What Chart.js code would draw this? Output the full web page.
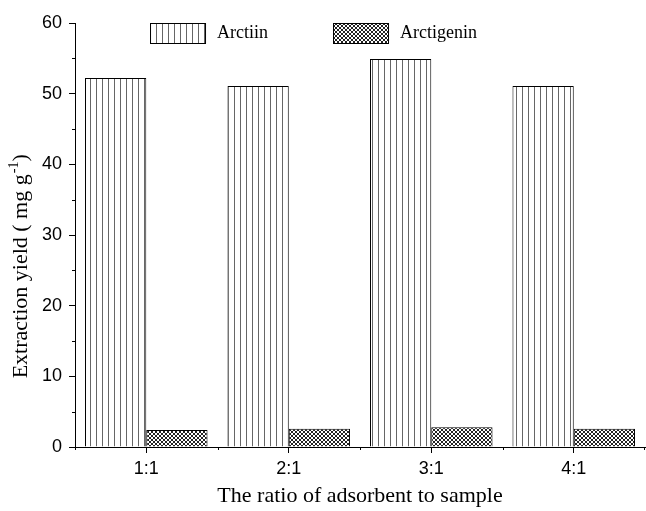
<!DOCTYPE html>
<html>
<head>
<meta charset="utf-8">
<script src="https://cdn.jsdelivr.net/npm/chart.js@4/dist/chart.umd.min.js"></script>
<style>
    body { margin: 0; background: #fff; }
    #wrap { width: 646px; height: 511px; }
</style>
</head>
<body>
<div id="wrap"><canvas id="myChart"></canvas></div>
<script>
// Chart data
const ratios = ['1:1', '2:1', '3:1', '4:1'];
const arctiin = [52.2, 51.1, 54.9, 51.1];
const arctigenin = [2.4, 2.6, 2.8, 2.6];
const yTicks = [0, 10, 20, 30, 40, 50, 60];
const yTitle = ['Extraction yield ( mg g', '-1', ')'];

// Vertical stripe fill for Arctiin
function stripePattern() {
    const c = document.createElement('canvas');
    c.width = 6; c.height = 6;
    const g = c.getContext('2d');
    g.fillStyle = '#fff';
    g.fillRect(0, 0, 6, 6);
    g.fillStyle = '#666';
    g.fillRect(0, 0, 1, 6);
    return g.createPattern(c, 'repeat');
}

// Dense cross-hatch fill for Arctigenin
function crossPattern() {
    const c = document.createElement('canvas');
    c.width = 4; c.height = 4;
    const g = c.getContext('2d');
    g.fillStyle = '#fff';
    g.fillRect(0, 0, 4, 4);
    g.fillStyle = '#222';
    for (let i = 0; i < 4; i++) {
        g.fillRect(i, i, 1, 1);
        g.fillRect(3 - i, i, 1, 1);
    }
    return g.createPattern(c, 'repeat');
}

const serif = "'Liberation Serif', 'Times New Roman', serif";
const sans = "'Liberation Sans', Arial, sans-serif";

// minor ticks, y title with superscript, legend inside the plot
const extras = {
    id: 'extras',
    afterDraw(chart) {
        const ctx = chart.ctx;
        const x = chart.scales.x, y = chart.scales.y;
        const area = chart.chartArea;
        ctx.save();
        ctx.strokeStyle = '#000';
        ctx.lineWidth = 1;
        ctx.beginPath();
        for (let v = 5; v < 60; v += 10) {
            const py = Math.round(y.getPixelForValue(v)) + 0.5;
            ctx.moveTo(area.left, py);
            ctx.lineTo(area.left - 3, py);
        }
        for (let i = 0; i <= ratios.length; i++) {
            let px;
            if (i === 0) px = area.left;
            else if (i === ratios.length) px = area.right - 1;
            else px = (x.getPixelForTick(i - 1) + x.getPixelForTick(i)) / 2;
            px = Math.round(px) + 0.5;
            ctx.moveTo(px, area.bottom);
            ctx.lineTo(px, area.bottom + 3);
        }
        ctx.stroke();

        // y axis title
        ctx.fillStyle = '#000';
        ctx.textBaseline = 'alphabetic';
        const big = '22px ' + serif, small = '14px ' + serif;
        ctx.font = big;
        const w0 = ctx.measureText(yTitle[0]).width;
        const w2 = ctx.measureText(yTitle[2]).width;
        ctx.font = small;
        const w1 = ctx.measureText(yTitle[1]).width;
        const total = w0 + w1 + w2;
        ctx.translate(27, y.getPixelForValue(25.5) + total / 2);
        ctx.rotate(-Math.PI / 2);
        ctx.font = big;
        ctx.fillText(yTitle[0], 0, 0);
        ctx.font = small;
        ctx.fillText(yTitle[1], w0 + 1, -9);
        ctx.font = big;
        ctx.fillText(yTitle[2], w0 + w1 + 1, 0);
        ctx.setTransform(1, 0, 0, 1, 0, 0);

        // legend
        ctx.font = '18px ' + serif;
        ctx.textBaseline = 'middle';
        const items = [
            { x: area.left + 75, ds: chart.data.datasets[0] },
            { x: area.left + 258, ds: chart.data.datasets[1] }
        ];
        items.forEach(it => {
            const top = area.top + 0.5;
            ctx.fillStyle = it.ds.backgroundColor;
            ctx.fillRect(it.x, top, 55, 20);
            ctx.strokeRect(it.x + 0.5, top, 55, 20);
            ctx.fillStyle = '#000';
            ctx.fillText(it.ds.label, it.x + 67, top + 10);
        });
        ctx.restore();
    }
};

function createChart() {
    const ctx = document.getElementById('myChart');
    new Chart(ctx, {
        type: 'bar',
        data: {
            labels: ratios,
            datasets: [{
                label: 'Arctiin',
                data: arctiin,
                backgroundColor: stripePattern(),
                borderColor: '#000',
                borderWidth: 1
            }, {
                label: 'Arctigenin',
                data: arctigenin,
                backgroundColor: crossPattern(),
                borderColor: '#000',
                borderWidth: 1
            }]
        },
        options: {
            responsive: true,
            maintainAspectRatio: false,
            animation: false,
            layout: { padding: { top: 23, right: 1, left: 35, bottom: 2 } },
            datasets: { bar: { categoryPercentage: 0.86, barPercentage: 1 } },
            scales: {
                x: {
                    offset: true,
                    grid: { offset: false, drawOnChartArea: false, tickLength: 6, color: '#000' },
                    border: { color: '#000', width: 1 },
                    ticks: { color: '#000', font: { family: sans, size: 18 }, padding: 5, maxRotation: 0 },
                    title: {
                        display: true,
                        text: 'The ratio of adsorbent to sample',
                        color: '#000',
                        font: { family: serif, size: 22 },
                        padding: { top: -2, bottom: 0 }
                    }
                },
                y: {
                    min: 0,
                    max: 60,
                    afterBuildTicks: axis => { axis.ticks = yTicks.map(v => ({ value: v })); },
                    grid: { drawOnChartArea: false, tickLength: 6, color: '#000' },
                    border: { color: '#000', width: 1 },
                    ticks: { color: '#000', font: { family: sans, size: 18 }, padding: 7 }
                }
            },
            plugins: {
                legend: { display: false },
                tooltip: { enabled: false }
            }
        },
        plugins: [extras]
    });
}
createChart();
</script>
</body>
</html>
